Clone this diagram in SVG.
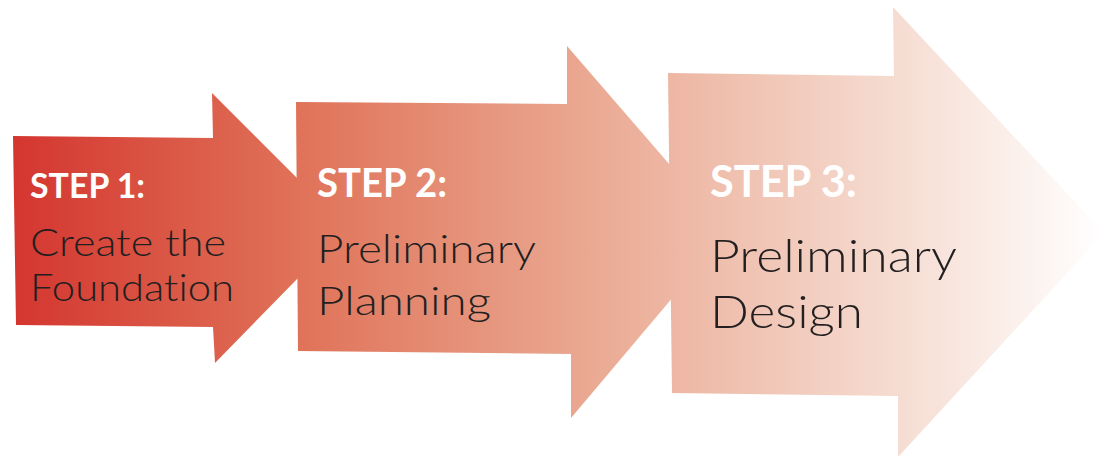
<svg xmlns="http://www.w3.org/2000/svg" width="1104" height="458" viewBox="0 0 1104 458">
  <defs>
    <linearGradient id="g" gradientUnits="userSpaceOnUse" x1="13" y1="0" x2="1104" y2="0">
      <stop offset="0" stop-color="#d4362f"/>
      <stop offset="0.27" stop-color="#e0745a"/>
      <stop offset="0.55" stop-color="#ebad97"/>
      <stop offset="0.8" stop-color="#f5dacf"/>
      <stop offset="1" stop-color="#ffffff"/>
    </linearGradient>
  </defs>
  <style>
    .arrow { fill: url(#g); }
    .step { font-family: Lato, "Open Sans", sans-serif; font-weight: 700; fill: #ffffff; }
    .body { font-family: Lato, "DejaVu Sans", sans-serif; font-weight: 300; fill: #231f20; font-variant-ligatures: none; }
  </style>
  <g id="connectors"></g>
  <g id="step1">
    <polygon class="arrow" points="13,136 213,138 212,93 347,228 215,363 213,327 16,325"/>
    <text class="step" x="30" y="198" font-size="34" textLength="115" lengthAdjust="spacingAndGlyphs">STEP 1:</text>
    <text class="body" x="30" y="256" font-size="37" textLength="196" lengthAdjust="spacingAndGlyphs">Create the</text>
    <text class="body" x="30" y="301" font-size="37" textLength="204" lengthAdjust="spacingAndGlyphs">Foundation</text>
  </g>
  <g id="step2">
    <polygon class="arrow" points="296,102 567,104 567,46 728,232 571,418 571,354 298,351"/>
    <text class="step" x="317" y="197" font-size="40" textLength="130" lengthAdjust="spacingAndGlyphs">STEP 2:</text>
    <text class="body" x="317" y="263" font-size="40" textLength="219" lengthAdjust="spacingAndGlyphs">Preliminary</text>
    <text class="body" x="317" y="315" font-size="40" textLength="174" lengthAdjust="spacingAndGlyphs">Planning</text>
  </g>
  <g id="step3">
    <polygon class="arrow" points="668,73 894,76 893,7 1104,233 898,457 898,396 672,393"/>
    <text class="step" x="710" y="197" font-size="44" textLength="147" lengthAdjust="spacingAndGlyphs">STEP 3:</text>
    <text class="body" x="710" y="272" font-size="45" textLength="247" lengthAdjust="spacingAndGlyphs">Preliminary</text>
    <text class="body" x="710" y="328" font-size="45" textLength="153" lengthAdjust="spacingAndGlyphs">Design</text>
  </g>
</svg>
